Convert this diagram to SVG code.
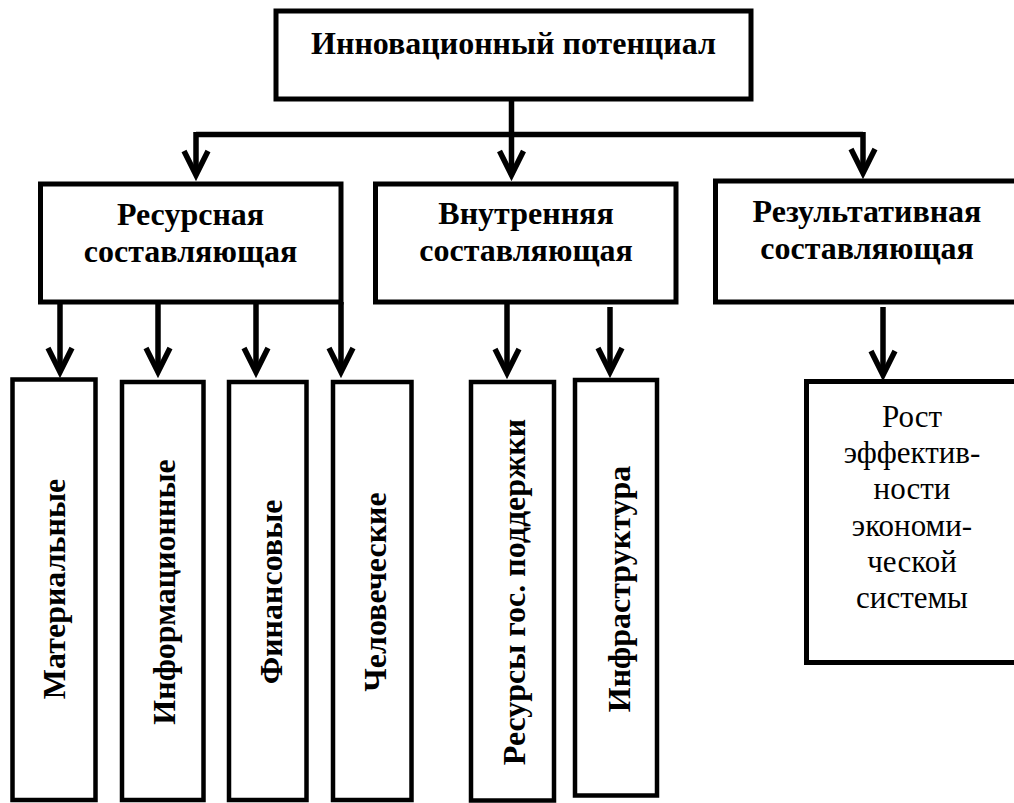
<svg xmlns="http://www.w3.org/2000/svg" width="1014" height="803" viewBox="0 0 1014 803">
<style>
.box{fill:#fff;stroke:#000;stroke-width:5}
.sbox{fill:#fff;stroke:#000;stroke-width:4.5}
.lbl{font-family:"Liberation Serif","Times New Roman",serif;font-weight:bold;font-size:32px;text-anchor:middle;fill:#000}
.vl{font-family:"Liberation Serif","Times New Roman",serif;font-weight:bold;font-size:32px;text-anchor:middle;fill:#000}
.reg{font-family:"Liberation Serif","Times New Roman",serif;font-size:31px;text-anchor:middle;fill:#000}
.con{fill:none;stroke:#000;stroke-width:5.5}
</style>
<defs>
<marker id="ah" markerUnits="userSpaceOnUse" orient="auto" markerWidth="40" markerHeight="40" viewBox="-30 -20 40 40" refX="0" refY="0" overflow="visible">
<path d="M-24,-12 L0,0 L-24,12" fill="none" stroke="#000" stroke-width="5.5" stroke-linejoin="miter" stroke-miterlimit="10"/>
</marker>
</defs>
<rect width="1014" height="803" fill="#fff"/>
<g id="connectors">
<path class="con" d="M511.5,99 V175" marker-end="url(#ah)"/>
<path class="con" d="M196,134.5 H863"/>
<path class="con" d="M196,132 V175" marker-end="url(#ah)"/>
<path class="con" d="M863,132 V173" marker-end="url(#ah)"/>
<path class="con" d="M60,302 V372" marker-end="url(#ah)"/>
<path class="con" d="M158,302 V372" marker-end="url(#ah)"/>
<path class="con" d="M256,302 V372" marker-end="url(#ah)"/>
<path class="con" d="M341,302 V372" marker-end="url(#ah)"/>
<path class="con" d="M507,302 V373" marker-end="url(#ah)"/>
<path class="con" d="M610,307 V372" marker-end="url(#ah)"/>
<path class="con" d="M883,307 V375" marker-end="url(#ah)"/>
</g>
<g id="n-top">
<rect class="box" x="276" y="11" width="475" height="88"/>
<text class="lbl" x="513.5" y="54">Инновационный потенциал</text>
</g>
<g id="n-res">
<rect class="box" x="40.5" y="184" width="300.5" height="118"/>
<text class="lbl" x="190.5" y="225">Ресурсная</text>
<text class="lbl" x="190.5" y="262">составляющая</text>
</g>
<g id="n-vn">
<rect class="box" x="375.5" y="184" width="300.5" height="118"/>
<text class="lbl" x="526" y="224">Внутренняя</text>
<text class="lbl" x="526" y="261">составляющая</text>
</g>
<g id="n-rez">
<rect class="box" x="715.5" y="181" width="304" height="121"/>
<text class="lbl" x="867" y="222">Результативная</text>
<text class="lbl" x="867" y="259">составляющая</text>
</g>
<g id="n-mat">
<rect class="sbox" x="12.5" y="379.5" width="83" height="420.5"/>
<text class="vl" transform="translate(65,589) rotate(-90)">Материальные</text>
</g>
<g id="n-inf">
<rect class="sbox" x="122" y="382" width="81.5" height="418"/>
<text class="vl" transform="translate(175,592) rotate(-90)">Информационные</text>
</g>
<g id="n-fin">
<rect class="sbox" x="229" y="382" width="77.5" height="418"/>
<text class="vl" transform="translate(282,592) rotate(-90)">Финансовые</text>
</g>
<g id="n-chel">
<rect class="sbox" x="333" y="382" width="78.5" height="418"/>
<text class="vl" transform="translate(386,592) rotate(-90)">Человеческие</text>
</g>
<g id="n-gos">
<rect class="sbox" x="471" y="382" width="83" height="418.5"/>
<text class="vl" transform="translate(525,592) rotate(-90)">Ресурсы гос. поддержки</text>
</g>
<g id="n-infra">
<rect class="sbox" x="575" y="380" width="82" height="415.5"/>
<text class="vl" transform="translate(630,589) rotate(-90)">Инфраструктура</text>
</g>
<g id="n-rost">
<rect class="box" x="806.5" y="381.5" width="215" height="281"/>
<text class="reg" x="912" y="427">Рост</text>
<text class="reg" x="912" y="463">эффектив-</text>
<text class="reg" x="912" y="499">ности</text>
<text class="reg" x="912" y="536">экономи-</text>
<text class="reg" x="912" y="572">ческой</text>
<text class="reg" x="912" y="608">системы</text>
</g>
</svg>
